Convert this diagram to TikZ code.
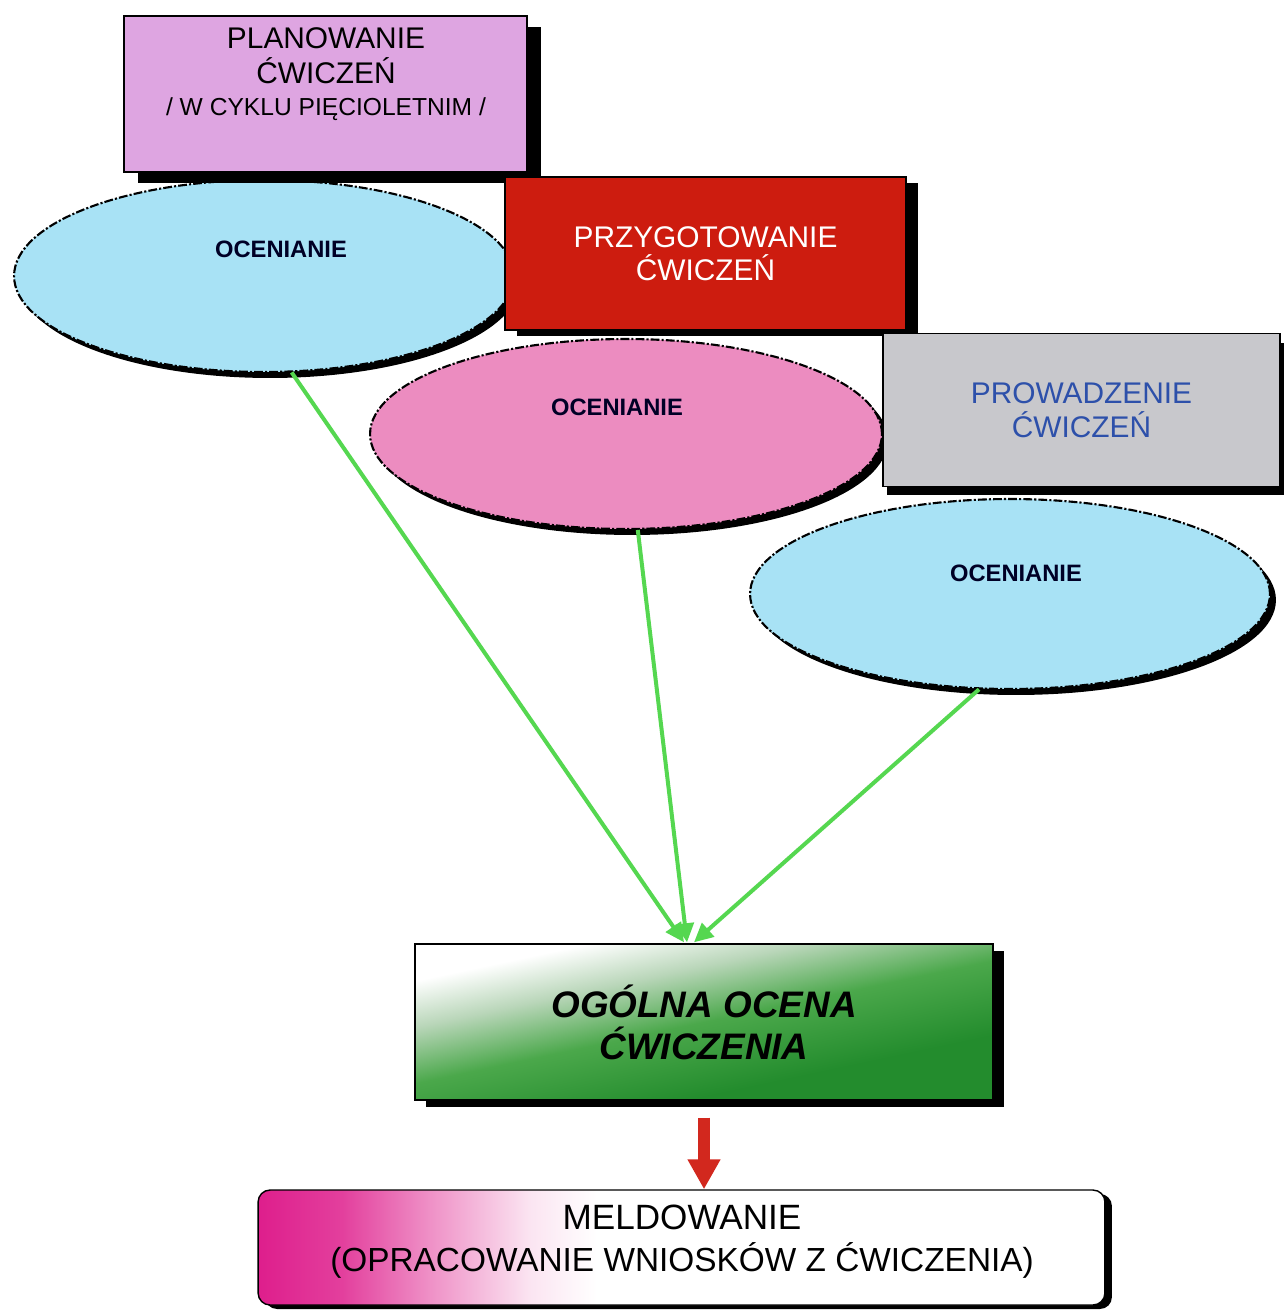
\documentclass[tikz,border=0pt]{standalone}
\usepackage{fontspec}
\setmainfont{Liberation Sans}
\usetikzlibrary{shapes.geometric,arrows.meta,calc,shadows}
\definecolor{lav}{RGB}{222,165,225}
\definecolor{cyanl}{RGB}{168,226,245}
\definecolor{pinkl}{RGB}{236,140,192}
\definecolor{redb}{RGB}{205,28,15}
\definecolor{grayb}{RGB}{200,200,204}
\definecolor{blueT}{RGB}{45,80,170}
\definecolor{gD}{RGB}{35,140,45}
\definecolor{gM}{RGB}{75,168,75}
\definecolor{gL}{RGB}{185,214,185}
\definecolor{arrG}{RGB}{85,215,80}
\definecolor{arrR}{RGB}{210,40,30}
\definecolor{mag}{RGB}{222,30,140}
\pgfdeclareverticalshading{ogsh}{100bp}{color(0bp)=(gD); color(34bp)=(gD); color(50bp)=(gM); color(62bp)=(gL); color(72bp)=(white); color(100bp)=(white)}
\pgfdeclarehorizontalshading{mesh}{100bp}{color(0bp)=(mag); color(25bp)=(mag); color(30bp)=(mag!85!white); color(35bp)=(mag!50!white); color(41bp)=(mag!12!white); color(45bp)=(white); color(100bp)=(white)}
\begin{document}
\begin{tikzpicture}[x=0.02cm,y=-0.02cm,
  boxst/.style={rectangle, draw=black, line width=0.8pt, inner sep=0pt, align=center},
  ellst/.style={ellipse, draw=black, line width=1.2pt, dash pattern=on 5pt off 1.2pt on 1.2pt off 1.2pt, inner sep=0pt},
  shad/.style 2 args={drop shadow={shadow xshift=#1, shadow yshift=#2, opacity=1, fill=black}},
  elltext/.style={font=\bfseries\fontsize{13.5}{16}\selectfont, text=black!85!blue},
  garrow/.style={draw=arrG, line width=0.08cm, -{Triangle[width=0.36cm,length=0.38cm]}},
]
\useasboundingbox (0,0) rectangle (1286,1310);

\node[ellst, fill=cyanl, minimum width=10.4cm, minimum height=3.8cm, shad={0.12cm}{-0.12cm}] (e3) at (1010,594) {};
\node[elltext] (e3t) at (1016,573) {OCENIANIE};
\node[ellst, fill=pinkl, minimum width=10.24cm, minimum height=3.8cm, shad={0.12cm}{-0.12cm}] (e2) at (626,434) {};
\node[elltext] (e2t) at (617,407) {OCENIANIE};
\node[ellst, fill=cyanl, minimum width=10cm, minimum height=3.84cm, shad={0.12cm}{-0.12cm}] (e1) at (264,276) {};
\node[elltext] (e1t) at (281,249) {OCENIANIE};

\node[boxst, fill=lav, minimum width=8.06cm, minimum height=3.12cm, shad={0.28cm}{-0.22cm}] (p1) at (325.5,94) {};
\node[align=center, font=\fontsize{17}{20}\selectfont] (p1t) at (326,74) {PLANOWANIE\\ĆWICZEŃ\\[-2pt]{\fontsize{14}{16}\selectfont / W CYKLU PIĘCIOLETNIM /}};

\node[boxst, fill=redb, text=white, font=\fontsize{17}{18.7}\selectfont, minimum width=8.02cm, minimum height=3.06cm, shad={0.24cm}{-0.12cm}] (p2) at (705.5,253.5) {PRZYGOTOWANIE\\ĆWICZEŃ};

\node[boxst, fill=grayb, text=blueT, font=\fontsize{17}{19.2}\selectfont, minimum width=7.94cm, minimum height=3.06cm, shad={0.08cm}{-0.18cm}] (p3) at (1081.5,410) {PROWADZENIE\\ĆWICZEŃ};

\node[boxst, shade, shading=ogsh, shading angle=12, font=\bfseries\itshape\fontsize{21}{23.8}\selectfont, minimum width=11.56cm, minimum height=3.12cm, shad={0.22cm}{-0.14cm}] (og) at (704,1022) {OGÓLNA OCENA\\ĆWICZENIA};

\node[boxst, rounded corners=0.24cm, shade, shading=mesh, minimum width=16.94cm, minimum height=2.3cm, shad={0.14cm}{-0.08cm}] (me) at (681.5,1247.5) {};
\node[align=center, font=\fontsize{20}{23.8}\selectfont] (met) at (682,1242) {MELDOWANIE\\{\fontsize{19}{22}\selectfont (OPRACOWANIE WNIOSKÓW Z ĆWICZENIA)}};

\coordinate (tA) at ($(og.north)+(-20,-1)$);
\coordinate (tB) at ($(og.north)+(-17,-1)$);
\coordinate (tC) at ($(og.north)+(-10,-1)$);
\draw[garrow] (e1.-74) -- (tA);
\draw[garrow] (e2.-83) -- (tB);
\draw[garrow] (e3.-108) -- (tC);

\draw[draw=arrR, line width=0.23cm, -{Triangle[width=0.62cm,length=0.6cm]}, shorten <=0.34cm] (og.south) -- (og.south |- me.north);
\end{tikzpicture}
\end{document}
